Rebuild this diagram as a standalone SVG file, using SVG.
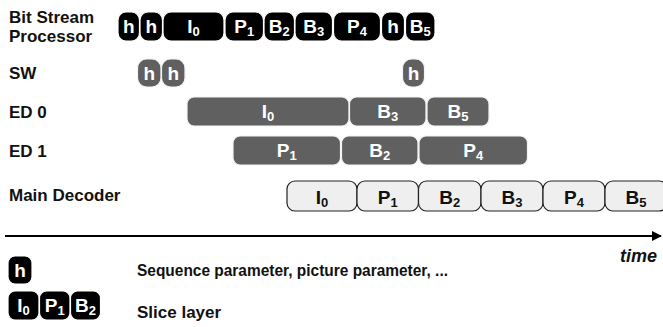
<svg xmlns="http://www.w3.org/2000/svg" width="663" height="327" viewBox="0 0 663 327">
  <style>
    .lbl { font-family: "Liberation Sans", Arial, sans-serif; font-weight: bold; font-size: 17px; fill: #111; }
    .blk { fill: #000; stroke: #fff; stroke-width: 1.2; }
    .gry { fill: #606060; stroke: #f4f4f4; stroke-width: 1.2; }
    .md  { fill: #efefef; stroke: #222; stroke-width: 1.2; }
    .wt  { font-family: "Liberation Sans", Arial, sans-serif; font-weight: bold; font-size: 19px; fill: #fff; text-anchor: middle; }
    .bt  { font-family: "Liberation Sans", Arial, sans-serif; font-weight: bold; font-size: 19px; fill: #111; text-anchor: middle; }
    .sub { font-size: 13px; }
  </style>
  <defs>
    <marker id="arrow" viewBox="0 0 10 10" refX="9" refY="5" markerWidth="10" markerHeight="10" markerUnits="userSpaceOnUse" orient="auto">
      <path d="M0,0 L10,5 L0,10 z" fill="#000"/>
    </marker>
  </defs>

  <!-- row labels -->
  <g id="labels">
    <text class="lbl" x="9" y="23">Bit Stream</text>
    <text class="lbl" x="9" y="42">Processor</text>
    <text class="lbl" x="9" y="79">SW</text>
    <text class="lbl" x="9" y="118">ED 0</text>
    <text class="lbl" x="9" y="157">ED 1</text>
    <text class="lbl" x="9" y="201" font-size="17.5">Main Decoder</text>
  </g>

  <!-- bit stream processor -->
  <g id="bsp">
    <g id="bsp-h1"><rect class="blk" x="118" y="12" width="21.5" height="29" rx="8"/><text class="wt" x="128.8" y="33">h</text></g>
    <g id="bsp-h2"><rect class="blk" x="140" y="12" width="22.5" height="29" rx="8"/><text class="wt" x="151.3" y="33">h</text></g>
    <g id="bsp-I0"><rect class="blk" x="163" y="12" width="61" height="29" rx="8"/><text class="wt" x="193.5" y="33">I<tspan class="sub" dy="3">0</tspan></text></g>
    <g id="bsp-P1"><rect class="blk" x="225" y="12" width="38.5" height="29" rx="8"/><text class="wt" x="244.3" y="33">P<tspan class="sub" dy="3">1</tspan></text></g>
    <g id="bsp-B2"><rect class="blk" x="264" y="12" width="30.5" height="29" rx="8"/><text class="wt" x="279.3" y="33">B<tspan class="sub" dy="3">2</tspan></text></g>
    <g id="bsp-B3"><rect class="blk" x="295" y="12" width="37.5" height="29" rx="8"/><text class="wt" x="313.8" y="33">B<tspan class="sub" dy="3">3</tspan></text></g>
    <g id="bsp-P4"><rect class="blk" x="333.5" y="12" width="47" height="29" rx="8"/><text class="wt" x="357" y="33">P<tspan class="sub" dy="3">4</tspan></text></g>
    <g id="bsp-h3"><rect class="blk" x="381.5" y="12" width="23" height="29" rx="8"/><text class="wt" x="393" y="33">h</text></g>
    <g id="bsp-B5"><rect class="blk" x="405.5" y="12" width="29.5" height="29" rx="8"/><text class="wt" x="420.3" y="33">B<tspan class="sub" dy="3">5</tspan></text></g>
  </g>

  <!-- software -->
  <g id="sw">
    <g id="sw-h1"><rect class="gry" x="137.5" y="59" width="23.5" height="28" rx="9"/><text class="wt" x="149.3" y="80">h</text></g>
    <g id="sw-h2"><rect class="gry" x="161.5" y="59" width="23.5" height="28" rx="9"/><text class="wt" x="173.3" y="80">h</text></g>
    <g id="sw-h3"><rect class="gry" x="402.5" y="59" width="22" height="28" rx="9"/><text class="wt" x="413.5" y="80">h</text></g>
  </g>

  <!-- entropy decoder 0 -->
  <g id="ed0">
    <g id="ed0-I0"><rect class="gry" x="187" y="97" width="162" height="29" rx="7"/><text class="wt" x="268" y="118">I<tspan class="sub" dy="3">0</tspan></text></g>
    <g id="ed0-B3"><rect class="gry" x="349.5" y="97" width="76.5" height="29" rx="7"/><text class="wt" x="387.8" y="118">B<tspan class="sub" dy="3">3</tspan></text></g>
    <g id="ed0-B5"><rect class="gry" x="427" y="97" width="62" height="29" rx="7"/><text class="wt" x="458" y="118">B<tspan class="sub" dy="3">5</tspan></text></g>
  </g>

  <!-- entropy decoder 1 -->
  <g id="ed1">
    <g id="ed1-P1"><rect class="gry" x="233" y="136" width="107.5" height="29" rx="7"/><text class="wt" x="286.8" y="157">P<tspan class="sub" dy="3">1</tspan></text></g>
    <g id="ed1-B2"><rect class="gry" x="341.5" y="136" width="76.5" height="29" rx="7"/><text class="wt" x="379.8" y="157">B<tspan class="sub" dy="3">2</tspan></text></g>
    <g id="ed1-P4"><rect class="gry" x="419" y="136" width="108.5" height="29" rx="7"/><text class="wt" x="473.3" y="157">P<tspan class="sub" dy="3">4</tspan></text></g>
  </g>

  <!-- main decoder -->
  <g id="main">
    <g id="md-I0"><rect class="md" x="287" y="181" width="70" height="30" rx="8"/><text class="bt" x="322" y="204">I<tspan class="sub" dy="3">0</tspan></text></g>
    <g id="md-P1"><rect class="md" x="357" y="181" width="61.5" height="30" rx="8"/><text class="bt" x="387.8" y="204">P<tspan class="sub" dy="3">1</tspan></text></g>
    <g id="md-B2"><rect class="md" x="418.5" y="181" width="62.5" height="30" rx="8"/><text class="bt" x="449.8" y="204">B<tspan class="sub" dy="3">2</tspan></text></g>
    <g id="md-B3"><rect class="md" x="481" y="181" width="62" height="30" rx="8"/><text class="bt" x="512" y="204">B<tspan class="sub" dy="3">3</tspan></text></g>
    <g id="md-P4"><rect class="md" x="543" y="181" width="62" height="30" rx="8"/><text class="bt" x="574" y="204">P<tspan class="sub" dy="3">4</tspan></text></g>
    <g id="md-B5"><rect class="md" x="605" y="181" width="62" height="30" rx="8"/><text class="bt" x="636" y="204">B<tspan class="sub" dy="3">5</tspan></text></g>
  </g>

  <!-- time axis -->
  <g id="connectors">
    <line x1="5" y1="236" x2="661" y2="236" stroke="#000" stroke-width="2" marker-end="url(#arrow)"/>
  </g>
  <text x="657" y="262" font-family="'Liberation Sans', Arial, sans-serif" font-size="18" font-weight="bold" font-style="italic" fill="#111" text-anchor="end">time</text>

  <!-- legend -->
  <g id="legend-h">
    <rect class="blk" x="8" y="256" width="24" height="28" rx="7"/>
    <text class="wt" x="20" y="277">h</text>
    <text class="lbl" x="137" y="276" font-size="16.5" textLength="311" lengthAdjust="spacingAndGlyphs">Sequence parameter, picture parameter, ...</text>
  </g>
  <g id="legend-slice">
    <rect class="blk" x="8" y="291" width="31" height="29" rx="7"/>
    <text class="wt" x="23.5" y="312">I<tspan class="sub" dy="3">0</tspan></text>
    <rect class="blk" x="39.5" y="291" width="30.5" height="29" rx="7"/>
    <text class="wt" x="54.8" y="312">P<tspan class="sub" dy="3">1</tspan></text>
    <rect class="blk" x="70.5" y="291" width="30" height="29" rx="7"/>
    <text class="wt" x="85.5" y="312">B<tspan class="sub" dy="3">2</tspan></text>
    <text class="lbl" x="137" y="318" font-size="16.5">Slice layer</text>
  </g>
</svg>
